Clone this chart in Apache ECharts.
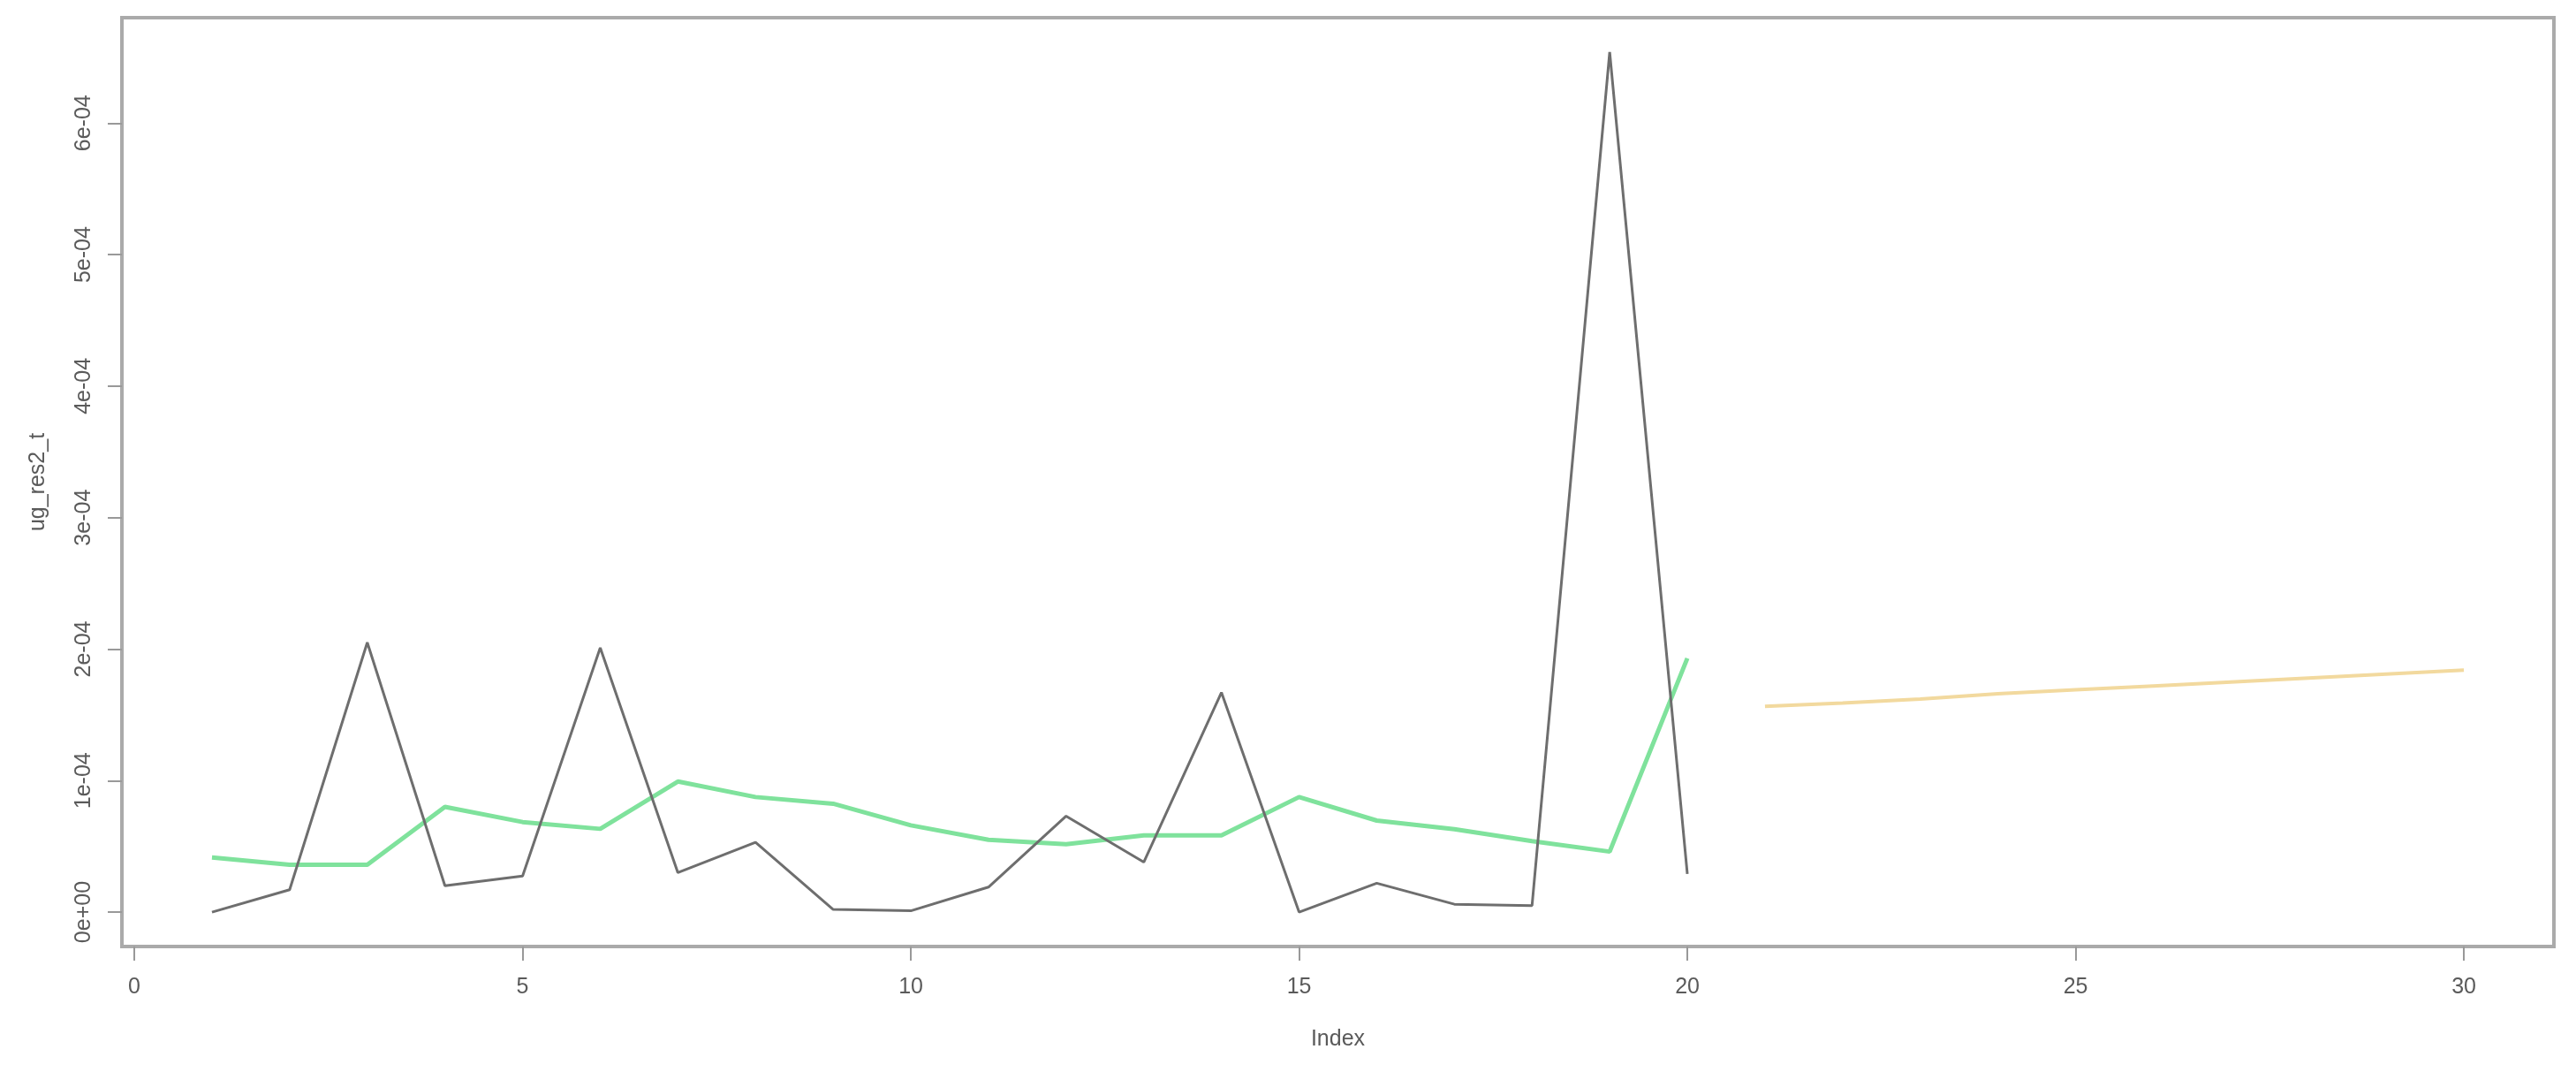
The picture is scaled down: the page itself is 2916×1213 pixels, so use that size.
<!DOCTYPE html>
<html>
<head>
<meta charset="utf-8">
<script src="https://cdn.jsdelivr.net/npm/echarts@6/dist/echarts.min.js"></script>
<style>
  html, body { margin: 0; padding: 0; background: #fff; }
  #chart { width: 2916px; height: 1213px; }
</style>
</head>
<body>
<div id="chart"></div>
<script>
// 数据
const indexFit = [1, 2, 3, 4, 5, 6, 7, 8, 9, 10, 11, 12, 13, 14, 15, 16, 17, 18, 19, 20];
const resActual = [0.0e-4, 0.17e-4, 2.05e-4, 0.20e-4, 0.275e-4, 2.01e-4, 0.30e-4, 0.53e-4, 0.02e-4, 0.01e-4,
  0.19e-4, 0.73e-4, 0.38e-4, 1.67e-4, 0.0e-4, 0.22e-4, 0.06e-4, 0.05e-4, 6.54e-4, 0.29e-4];
const resFitted = [0.416e-4, 0.36e-4, 0.36e-4, 0.80e-4, 0.685e-4, 0.633e-4, 0.993e-4, 0.875e-4, 0.824e-4, 0.66e-4,
  0.55e-4, 0.517e-4, 0.584e-4, 0.584e-4, 0.875e-4, 0.696e-4, 0.63e-4, 0.54e-4, 0.46e-4, 1.93e-4];
const indexFcst = [21, 22, 23, 24, 25, 26, 27, 28, 29, 30];
const resFcst = [1.564e-4, 1.59e-4, 1.62e-4, 1.66e-4, 1.69e-4, 1.72e-4, 1.75e-4, 1.78e-4, 1.81e-4, 1.84e-4];
const xTicks = [0, 5, 10, 15, 20, 25, 30];
const yTicks = [0, 1e-4, 2e-4, 3e-4, 4e-4, 5e-4, 6e-4];
const yTickLabels = ['0e+00', '1e-04', '2e-04', '3e-04', '4e-04', '5e-04', '6e-04'];

const font = 'Liberation Sans, Arial, sans-serif';
const textColor = '#5a5a5a';

let chart = echarts.init(document.getElementById('chart'), null, { renderer: 'canvas' });
chart.setOption({
  animation: false,
  backgroundColor: '#fff',
  grid: {
    left: 138,
    right: 25,
    top: 20,
    bottom: 142,
    show: true,
    borderColor: '#aaaaaa',
    borderWidth: 4,
    backgroundColor: 'transparent'
  },
  xAxis: {
    type: 'value',
    min: -0.16, //R默认两侧各扩展4%
    max: 31.16,
    name: 'Index',
    nameLocation: 'middle',
    nameGap: 93,
    nameTextStyle: { fontFamily: font, fontSize: 25, color: textColor },
    axisLine: { show: false, onZero: false },
    splitLine: { show: false },
    axisTick: {
      show: true,
      customValues: xTicks,
      length: 16,
      lineStyle: { color: '#999', width: 2 }
    },
    axisLabel: {
      customValues: xTicks,
      margin: 34,
      fontFamily: font,
      fontSize: 25,
      color: textColor
    }
  },
  yAxis: {
    type: 'value',
    min: -0.2616e-4,
    max: 6.8016e-4,
    name: 'ug_res2_t',
    nameLocation: 'middle',
    nameGap: 82,
    nameRotate: 90,
    nameTextStyle: { fontFamily: font, fontSize: 25, color: textColor },
    axisLine: { show: false, onZero: false },
    splitLine: { show: false },
    axisTick: {
      show: true,
      customValues: yTicks,
      length: 16,
      lineStyle: { color: '#999', width: 2 }
    },
    axisLabel: {
      customValues: yTicks,
      rotate: 90,
      margin: 30,
      fontFamily: font,
      fontSize: 25,
      color: textColor,
      formatter: function(value) {
        return yTickLabels[Math.round(value / 1e-4)];
      }
    }
  },
  series: [
    {
      type: 'line',
      name: 'fitted',
      data: indexFit.map((x, i) => [x, resFitted[i]]),
      showSymbol: false,
      lineStyle: { color: '#7fe29c', width: 5 },
      z: 2
    },
    {
      type: 'line',
      name: 'actual',
      data: indexFit.map((x, i) => [x, resActual[i]]),
      showSymbol: false,
      lineStyle: { color: '#6e6e6e', width: 3 },
      z: 3
    },
    {
      type: 'line',
      name: 'forecast',
      data: indexFcst.map((x, i) => [x, resFcst[i]]),
      showSymbol: false,
      lineStyle: { color: '#f2d99e', width: 4 },
      z: 2
    }
  ]
});
</script>
</body>
</html>
